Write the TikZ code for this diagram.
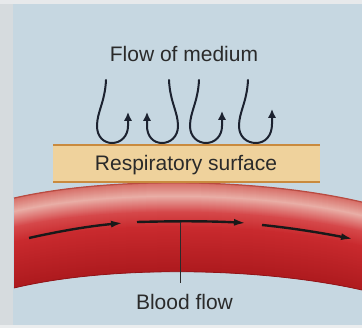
\documentclass[tikz,border=0pt]{standalone}
\usepackage{fontspec}
\setmainfont{Liberation Sans}
\usetikzlibrary{arrows.meta}

\definecolor{bgblue}{HTML}{C6D7E1}
\definecolor{edgegray}{HTML}{D6DBDE}
\definecolor{surffill}{HTML}{EFD29C}
\definecolor{surfline}{HTML}{C98A3E}
\definecolor{inkdark}{HTML}{1C2230}
\definecolor{txt}{HTML}{2A2A2A}
\definecolor{vrim}{HTML}{B84A40}
\definecolor{vpa}{HTML}{D8736C}
\definecolor{vpb}{HTML}{E9AEA6}
\definecolor{vra}{HTML}{D6484A}
\definecolor{vrb}{HTML}{C92A2E}
\definecolor{vrc}{HTML}{AA181C}

\tikzset{
  label/.style={font=\fontsize{21}{25}\selectfont, text=txt, anchor=base, inner sep=0pt},
  hook/.style={draw=inkdark, line width=2pt, line cap=round,
    -{Latex[length=9pt,width=8.5pt]}},
  flowarrow/.style={draw=black!90, line width=2.4pt,
    -{Latex[length=12pt,width=7pt]}},
  pointer/.style={draw=txt, line width=1pt},
}

\begin{document}
\begin{tikzpicture}[x=1pt, y=-1pt]
  % canvas
  \useasboundingbox (0,0) rectangle (362,328);
  \fill[bgblue] (0,0) rectangle (362,328);
  \fill[edgegray] (0,0) rectangle (13,328);
  \fill[edgegray!60!white] (0,0) rectangle (362,4);
  \fill[edgegray!50!white] (0,325) rectangle (362,328);

  % blood vessel: shaded band built from shifted copies of its upper edge
  \begin{scope}
    \clip (14,198) .. controls (110,176) and (260,178) .. (362,202)
      -- (362,290) .. controls (260,267) and (110,265) .. (14,288) -- cycle;
    \foreach \s/\e/\ca/\cb in {0/2/vrim/vpa, 2/14/vpa/vpb, 14/30/vpb/vra,
                               30/45/vra/vrb, 45/96/vrb/vrc} {
      \foreach \i in {\s,...,\e} {
        \pgfmathtruncatemacro\p{100*(\e-\i)/(\e-\s)}
        \draw[line width=1.6pt, color=\ca!\p!\cb, yshift=-\i pt]
          (14,198) .. controls (110,176) and (260,178) .. (362,202);
      }
    }
  \end{scope}
  \draw[vrim, line width=1pt]
    (14,198) .. controls (110,176) and (260,178) .. (362,202);
  \draw[vrc!85!black, line width=0.8pt]
    (14,288) .. controls (110,265) and (260,267) .. (362,290);

  % respiratory surface
  \fill[surffill] (53,145) rectangle (320,182);
  \draw[surfline, line width=1.4pt] (53,145) -- (320,145);
  \draw[surfline, line width=1.4pt] (53,182) -- (320,182);
  \node[label] (surface) at (186,170.5) {Respiratory surface};

  % flow of medium
  \node[label] (medium) at (184,61.5) {Flow of medium};
  \draw[hook] (106,80) .. controls (105,102) and (97,112) .. (97,126)
    .. controls (97,137) and (104,143) .. (112,143)
    .. controls (121,143) and (128,136) .. (128,126) -- (128,112);
  \draw[hook] (169,80) .. controls (170,102) and (178,112) .. (178,126)
    .. controls (178,137) and (170,143) .. (162,143)
    .. controls (153,143) and (147,136) .. (147,126) -- (147,112);
  \draw[hook] (199,80) .. controls (198,102) and (190,112) .. (190,126)
    .. controls (190,137) and (198,143) .. (206,143)
    .. controls (215,143) and (222,136) .. (222,126) -- (222,111);
  \draw[hook] (248,80) .. controls (247,102) and (239,112) .. (239,126)
    .. controls (239,137) and (247,143) .. (256,143)
    .. controls (265,143) and (272,136) .. (272,124) -- (272,109);

  % blood flow arrows
  \draw[flowarrow] (29,238) .. controls (60,231) and (90,226) .. (123,223);
  \draw[flowarrow] (137,222) .. controls (175,221) and (210,221) .. (246,223);
  \draw[flowarrow] (262,225) .. controls (292,228) and (322,233) .. (353,239);

  % label and its pointer
  \node[label] (blood) at (184.5,310) {Blood flow};
  \coordinate (ptrtop) at (180,222);
  \coordinate (ptrend) at (180,283);
  \draw[pointer] (ptrtop) -- (ptrend);
\end{tikzpicture}
\end{document}
